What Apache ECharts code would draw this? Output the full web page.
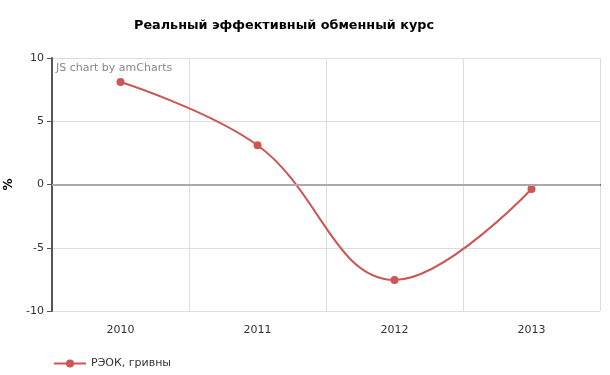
<!DOCTYPE html>
<html><head><meta charset="utf-8">
<script src="https://cdn.jsdelivr.net/npm/echarts@6/dist/echarts.min.js"></script>
<style>html,body{margin:0;padding:0;background:#fff}#c{width:610px;height:375px}</style>
</head><body><div id="c"></div>
<script>
const categories = ['2010', '2011', '2012', '2013'];
const seriesName = 'РЭОК, гривны';
const values = [8.1, 3.1, -7.55, -0.36];
const yTicks = { min: -10, max: 10, interval: 5 };

const font = 'Verdana, "DejaVu Sans", sans-serif';
const chart = echarts.init(document.getElementById('c'));
chart.setOption({
  animation: false,
  backgroundColor: '#fff',
  title: {
    text: 'Реальный эффективный обменный курс',
    left: 129, top: 14,
    textStyle: { fontFamily: font, fontSize: 12.8, fontWeight: 'bold', color: '#000' }
  },
  graphic: [{
    type: 'text', left: 56, top: 63,
    style: { text: 'JS chart by amCharts', fill: '#888', font: '11px ' + font }
  }],
  grid: { left: 52, right: 10, top: 58, bottom: 64, containLabel: false, outerBoundsMode: 'none' },
  legend: {
    left: 48, bottom: 1,
    itemWidth: 32, itemHeight: 10, itemGap: 6,
    textStyle: { fontFamily: font, fontSize: 11, color: '#333' },
    data: [seriesName]
  },
  xAxis: {
    type: 'category', data: categories, boundaryGap: true,
    axisLine: { lineStyle: { color: '#555', width: 2 } },
    axisTick: { alignWithLabel: true, length: 5, lineStyle: { color: '#555' } },
    axisLabel: { fontFamily: font, fontSize: 11, color: '#333', margin: 14 },
    splitLine: { show: true, lineStyle: { color: '#ddd' } }
  },
  yAxis: {
    type: 'value', min: yTicks.min, max: yTicks.max, interval: yTicks.interval,
    name: '%', nameLocation: 'middle', nameGap: 37, nameRotate: 90,
    nameTextStyle: { fontFamily: font, fontSize: 12, fontWeight: 'bold', color: '#000' },
    axisLine: { show: true, lineStyle: { color: '#555', width: 2 } },
    axisTick: { show: true, length: 5, lineStyle: { color: '#555' } },
    axisLabel: { fontFamily: font, fontSize: 11, color: '#333', margin: 8 },
    splitLine: { show: true, lineStyle: { color: '#ddd' } }
  },
  series: [{
    name: seriesName, type: 'line', data: values, smooth: 0.4,
    symbol: 'circle', symbolSize: 8,
    itemStyle: { color: '#cc5656' },
    lineStyle: { color: '#cc5656', width: 2 },
    markLine: {
      silent: true, symbol: 'none', label: { show: false },
      lineStyle: { color: '#aaa', width: 2, type: 'solid' },
      data: [{ yAxis: 0 }]
    }
  }]
});
</script></body></html>
